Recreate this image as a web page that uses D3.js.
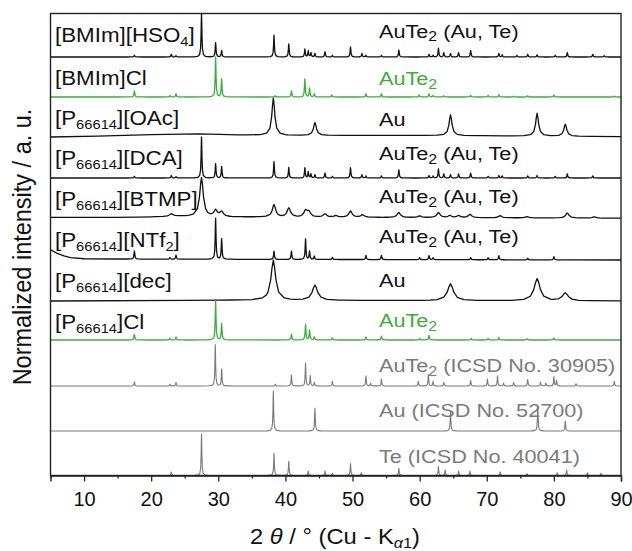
<!DOCTYPE html>
<html><head><meta charset="utf-8">
<script src="https://cdn.jsdelivr.net/npm/d3@7"></script>
<style>body{margin:0;background:#fff} text{font-family:"Liberation Sans",Arial,sans-serif}</style>
</head><body><svg id="c" width="632" height="551"></svg>
<script>
// ---------------- DATA ----------------
const xDomain = [5, 90];
const xTicks = [10, 20, 30, 40, 50, 60, 70, 80, 90];
const xMinorTicks = [5, 15, 25, 35, 45, 55, 65, 75, 85];

const sampleLabels = ["[BMIm][HSO_{4}]", "[BMIm]Cl", "[P_{66614}][OAc]", "[P_{66614}][DCA]",
  "[P_{66614}][BTMP]", "[P_{66614}][NTf_{2}]", "[P_{66614}][dec]", "[P_{66614}]Cl", "", "", ""];
const phaseLabels = ["AuTe_{2} (Au, Te)", "AuTe_{2}", "Au", "AuTe_{2} (Au, Te)", "AuTe_{2} (Au, Te)",
  "AuTe_{2} (Au, Te)", "Au", "AuTe_{2}", "AuTe_{2} (ICSD No. 30905)", "Au (ICSD No. 52700)", "Te (ICSD No. 40041)"];

// peaks: [2theta, relative height, (optional) half width]
const peaksHSO4 = [[17.5,0.04],[23.0,0.06],[23.7,0.03],[27.5,1.0],[29.6,0.33],[30.5,0.15],[38.3,0.5],[40.5,0.3],
  [42.9,0.18],[43.4,0.14],[43.8,0.1],[44.4,0.08],[45.9,0.12],[47.0,0.04],[49.7,0.23],[51.4,0.08],[52.0,0.04],
  [54.3,0.04],[56.9,0.16],[61.4,0.06],[62.0,0.04],[62.8,0.2],[63.6,0.1],[64.6,0.08],[65.8,0.1],[67.6,0.15],
  [71.8,0.08],[72.3,0.05],[74.5,0.04],[76.1,0.06],[77.5,0.05],[80.2,0.04],[82.0,0.1],[85.8,0.06],[87.5,0.03]];
const peaksBMImCl = [[17.5,0.15],[22.8,0.04],[23.7,0.08],[29.6,1.0],[30.5,0.45],[38.5,0.03],[40.9,0.15],[42.9,0.45],
  [43.6,0.22],[44.3,0.08],[46.9,0.05],[52.0,0.08],[54.3,0.08],[59.9,0.05],[61.4,0.08],[62.0,0.04],[63.6,0.03],
  [67.6,0.04],[70.2,0.04],[71.8,0.06],[74.0,0.02],[76.1,0.03],[80.0,0.05],[89.0,0.02]];
const peaksOAc = [[38.2,0.93],[44.4,0.32],[64.6,0.52],[77.5,0.57],[81.7,0.3]];
const bgOAc = [[5,0.0],[12,0.02],[20,0.06],[27,0.08],[33,0.05],[40,0.04],[60,0.04],[90,0.01]];
const peaksDCA = [[17.5,0.04],[23.0,0.06],[23.7,0.03],[27.5,1.0],[29.6,0.35],[30.5,0.28],[38.3,0.4],[40.5,0.26],
  [42.9,0.25],[43.4,0.15],[43.8,0.1],[44.4,0.08],[45.9,0.12],[47.0,0.04],[49.7,0.25],[51.4,0.08],[52.0,0.05],
  [54.3,0.05],[56.9,0.2],[61.4,0.06],[62.0,0.05],[62.8,0.22],[63.6,0.1],[64.6,0.08],[65.8,0.1],[67.6,0.12],
  [70.2,0.04],[71.8,0.06],[72.3,0.05],[76.1,0.05],[77.5,0.06],[80.2,0.04],[82.0,0.1],[85.8,0.05]];
const peaksBTMP = [[23.0,0.06],[27.5,0.95,0.3],[29.6,0.15],[30.5,0.12],[38.3,0.3],[40.5,0.22],[43.0,0.15],[43.5,0.12],
  [45.9,0.08],[47.5,0.04],[49.7,0.15],[51.5,0.06],[56.9,0.12],[60.0,0.04],[62.8,0.12],[64.5,0.05],[65.8,0.05],
  [67.5,0.08],[72.0,0.05],[76.0,0.03],[82.0,0.12],[86.0,0.03]];
const bgBTMP = [[5,0.04],[15,0.04],[20,0.05],[24,0.07],[32,0.05],[50,0.04],[90,0.02]];
const peaksNTf2 = [[17.5,0.2],[22.8,0.04],[23.7,0.1],[29.6,1.0],[30.5,0.5],[38.3,0.2],[40.9,0.2],[43.0,0.5],[43.6,0.2],
  [44.3,0.08],[47.0,0.05],[52.0,0.1],[54.3,0.1],[60.0,0.05],[61.4,0.1],[62.0,0.05],[67.6,0.05],[70.2,0.05],
  [71.8,0.1],[76.1,0.04],[80.0,0.08]];
const bgNTf2 = [[5,0.25],[6,0.16],[7,0.1],[8,0.06],[10,0.03],[20,0.02],[90,0.0]];
const peaksDec = [[38.2,0.98,0.4],[44.4,0.37,0.45],[64.6,0.41,0.5],[77.5,0.54,0.5],[81.7,0.19,0.5]];
const bgDec = [[5,0.0],[30,0.02],[90,0.0]];
const peaksP66614Cl = [[17.5,0.15],[22.8,0.04],[23.7,0.08],[29.6,1.0],[30.5,0.42],[40.9,0.15],[43.0,0.4],[43.6,0.25],
  [44.3,0.08],[47.0,0.05],[52.0,0.08],[54.3,0.1],[60.0,0.04],[61.4,0.12],[67.7,0.04],[70.2,0.04],[71.8,0.06],
  [76.0,0.03],[80.0,0.05]];
const peaksAuTe2Ref = [[17.5,0.09],[22.8,0.04],[23.7,0.08],[29.55,0.9],[30.5,0.37],[38.5,0.04],[40.9,0.24],[43.0,0.5],
  [43.7,0.23],[44.3,0.08],[47.0,0.1],[52.0,0.22],[52.7,0.06],[54.3,0.15],[59.8,0.1],[61.3,0.25],[62.0,0.1],
  [63.6,0.08],[67.6,0.12],[70.1,0.15],[71.6,0.22],[72.5,0.06],[74.0,0.08],[76.1,0.14],[78.0,0.08],[78.8,0.06],
  [80.0,0.2],[80.4,0.12],[83.3,0.05],[89.0,0.1]];
const peaksAuRef = [[38.2,0.89],[44.4,0.51],[64.6,0.44],[77.6,0.55],[81.7,0.22]];
const peaksTeRef = [[23.0,0.08],[27.5,0.93],[38.3,0.5],[40.5,0.32],[43.4,0.1],[45.9,0.1],[47.0,0.05],[49.7,0.27],
  [51.3,0.06],[56.9,0.16],[62.8,0.2],[63.8,0.12],[65.8,0.1],[67.5,0.1],[72.0,0.08],[76.0,0.04],[80.5,0.06],
  [81.9,0.12],[85.0,0.06],[87.0,0.05]];

const seriesPeaks = [peaksHSO4, peaksBMImCl, peaksOAc, peaksDCA, peaksBTMP, peaksNTf2, peaksDec, peaksP66614Cl,
  peaksAuTe2Ref, peaksAuRef, peaksTeRef];
const seriesBg = [null, null, bgOAc, null, bgBTMP, bgNTf2, bgDec, null, null, null, null];
const seriesWidth = [0.07, 0.07, 0.25, 0.07, 0.3, 0.07, 0.4, 0.07, 0.06, 0.06, 0.06];

// ---------------- LAYOUT / STYLE ----------------
const bounds = [13.5, 57, 97, 137, 178, 219, 260, 301, 340, 386, 431, 475.5];
const plotL = 50.5, plotR = 621;
const BLACK = "#111", GREEN = "#3cae3a", GRAY = "#7a7a7a";
const colorOf = i => (i === 1 || i === 7) ? GREEN : (i >= 8 ? GRAY : BLACK);
const rightOff = [24, 28, 29, 23, 25, 24, 27, 26, 32, 31, 32];

const svg = d3.select("#c");
const x = d3.scaleLinear().domain(xDomain).range([plotL, plotR]);

function bgAt(bg, v) {
  if (!bg) return 0;
  for (let i = 0; i < bg.length - 1; i++) {
    if (v >= bg[i][0] && v <= bg[i + 1][0]) {
      const t = (v - bg[i][0]) / (bg[i + 1][0] - bg[i][0]);
      return bg[i][1] + t * (bg[i + 1][1] - bg[i][1]);
    }
  }
  return bg[bg.length - 1][1];
}
function profile(peaks, w0, bg) {
  const xs = new Set([xDomain[0], xDomain[1]]);
  if (bg) bg.forEach(p => xs.add(p[0]));
  const offs = [0, 0.5, 1, 2, 4, 8, 16, 32];
  peaks.forEach(p => { const w = p[2] || w0; offs.forEach(o => { xs.add(p[0] - o * w); xs.add(p[0] + o * w); }); });
  const arr = [...xs].filter(v => v >= xDomain[0] && v <= xDomain[1]).sort((a, b) => a - b);
  return arr.map(v => [v, bgAt(bg, v) + peaks.reduce((s, p) => {
    const w = p[2] || w0, d = (v - p[0]) / w; return s + p[1] / (1 + d * d); }, 0)]);
}

function addRich(sel, str, subSize, subDy) {
  const parts = str.split(/(_\{[^}]*\})/).filter(s => s.length);
  let pending = 0;
  parts.forEach(p => {
    if (p.startsWith("_{")) {
      sel.append("tspan").attr("font-size", subSize).attr("dy", subDy).text(p.slice(2, -1));
      pending = -subDy;
    } else {
      const ts = sel.append("tspan").text(p);
      if (pending) ts.attr("dy", pending);
      pending = 0;
    }
  });
}

seriesPeaks.forEach((peaks, i) => {
  const top = bounds[i], bot = bounds[i + 1];
  const y = d3.scaleLinear().domain([0, 1]).range([bot, top]);
  const pts = profile(peaks, seriesWidth[i], seriesBg[i]);
  svg.append("path").datum(pts)
    .attr("d", d3.line().x(d => x(d[0])).y(d => y(d[1])))
    .attr("fill", "none").attr("stroke", colorOf(i))
    .attr("stroke-width", i >= 8 ? 1.1 : 1.3).attr("stroke-linejoin", "round");
  if (sampleLabels[i]) {
    const t = svg.append("text").attr("transform", `translate(55,${top + 28}) scale(1.09,1)`)
      .attr("font-size", 20.5).attr("fill", "#111");
    addRich(t, sampleLabels[i], 13.5, 4);
  }
  const t2 = svg.append("text").attr("transform", `translate(379,${top + rightOff[i]}) scale(1.14,1)`)
    .attr("font-size", 19).attr("fill", colorOf(i) === BLACK ? "#111" : colorOf(i));
  addRich(t2, phaseLabels[i], 14, 3.5);
});

// frame
svg.append("rect").attr("x", plotL).attr("y", bounds[0]).attr("width", plotR - plotL)
  .attr("height", bounds[11] - bounds[0]).attr("fill", "none").attr("stroke", "#222").attr("stroke-width", 1.4);

// x axis
const ax = svg.append("g").attr("transform", `translate(0,${bounds[11]})`)
  .call(d3.axisBottom(x).tickValues(xTicks).tickSize(6).tickPadding(10));
ax.select(".domain").attr("stroke", "#222").attr("stroke-width", 1.4);
ax.selectAll(".tick line").attr("stroke", "#222").attr("stroke-width", 1.3);
ax.selectAll(".tick text").attr("font-size", 20).attr("fill", "#111")
  .attr("font-family", "Liberation Sans, Arial, sans-serif");
const axm = svg.append("g").attr("transform", `translate(0,${bounds[11]})`)
  .call(d3.axisBottom(x).tickValues(xMinorTicks).tickSize(3).tickFormat(""));
axm.select(".domain").remove();
axm.selectAll(".tick line").attr("stroke", "#222").attr("stroke-width", 1.3);

// axis titles
const xt = svg.append("text").attr("transform", "translate(250,544) scale(1.08,1)")
  .attr("font-size", 22).attr("fill", "#111");
xt.append("tspan").text("2 ");
xt.append("tspan").attr("font-style", "italic").text("θ");
xt.append("tspan").text(" / ° (Cu - K");
xt.append("tspan").attr("font-size", 15).attr("dy", 4).attr("font-style", "italic").text("α");
xt.append("tspan").attr("font-size", 15).text("1");
xt.append("tspan").attr("dy", -4).text(")");

svg.append("text").attr("transform", "translate(31,247) rotate(-90) scale(1,1.1)")
  .attr("text-anchor", "middle").attr("font-size", 23.5).attr("fill", "#111")
  .text("Normalized intensity / a. u.");
</script></body></html>
